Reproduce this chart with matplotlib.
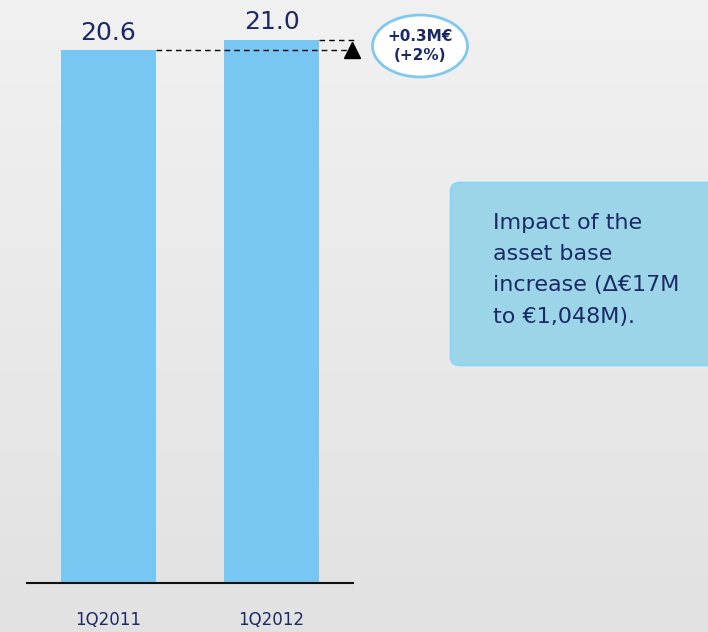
import numpy as np
import matplotlib
matplotlib.use('Agg')
import matplotlib.pyplot as plt
from matplotlib.patches import Ellipse, FancyBboxPatch

quarters = ['1Q2011', '1Q2012']
revenue = [20.6, 21.0]
delta_label = '+0.3M€\n(+2%)'
note = 'Impact of the\nasset base\nincrease (Δ€17M\nto €1,048M).'

navy = '#1b2a66'
bar_blue = '#77c7f2'

fig = plt.figure(figsize=(7.08, 6.32), dpi=100)

# soft grey backdrop
bg = fig.add_axes([0, 0, 1, 1])
grad = np.linspace(0.945, 0.885, 256).reshape(-1, 1)
bg.imshow(np.dstack([grad, grad, grad]), aspect='auto', extent=[0, 1, 0, 1])
bg.set_axis_off()

ax = fig.add_axes([27/708, 49/632, 326/708, 583/632])
ax.patch.set_alpha(0)
x = np.arange(len(quarters))
ax.bar(x, revenue, width=0.58, color=bar_blue, zorder=2)
ax.set_xlim(-0.5, 1.5)
ax.set_ylim(0, 21.0 * 583 / 543)

for xi, v in zip(x, revenue):
    ax.annotate(f'{v:.1f}', (xi, v), xytext=(0, 4), textcoords='offset points',
                ha='center', va='bottom', fontsize=18, color=navy)

for s in ['top', 'right', 'left']:
    ax.spines[s].set_visible(False)
ax.spines['bottom'].set_linewidth(1.5)
ax.spines['bottom'].set_color('#111111')
ax.set_yticks([])
ax.set_xticks(x)
ax.set_xticklabels(quarters, fontsize=12, color=navy)
ax.tick_params(axis='x', length=0, pad=20)

# dashed guides and arrow for the change
x_end = 1.53
ax.plot([0.29, x_end], [revenue[0], revenue[0]], ls='--', color='black', lw=1, dashes=(4, 3),
        zorder=3, clip_on=False)
ax.plot([1.29, x_end], [revenue[1], revenue[1]], ls='--', color='black', lw=1, dashes=(4, 3),
        zorder=3, clip_on=False)
ax.plot([1.495], [revenue[0] + 0.03], marker='^', color='black',
        markersize=11, clip_on=False, zorder=4)

# bubble with the change
fig.patches.append(Ellipse((420/708, 1 - 46/632), 95/708, 62/632, transform=fig.transFigure,
                           facecolor='white', edgecolor='#7fc9ee', lw=2))
fig.text(420/708, 1 - 46/632, delta_label, ha='center', va='center', fontsize=11,
         fontweight='bold', color=navy, linespacing=1.3)

# side note
fig.patches.append(FancyBboxPatch((451/708, 1 - 365/632), 290/708, 182/632,
                                  boxstyle='round,pad=0,rounding_size=0.012',
                                  transform=fig.transFigure, facecolor='#9dd5e8',
                                  edgecolor='#8cd6f5', lw=2, mutation_aspect=708/632))
fig.text(493/708, 1 - 213/632, note, ha='left', va='top', fontsize=16, color=navy,
         linespacing=1.7)

fig.savefig('out.png', dpi=100)
